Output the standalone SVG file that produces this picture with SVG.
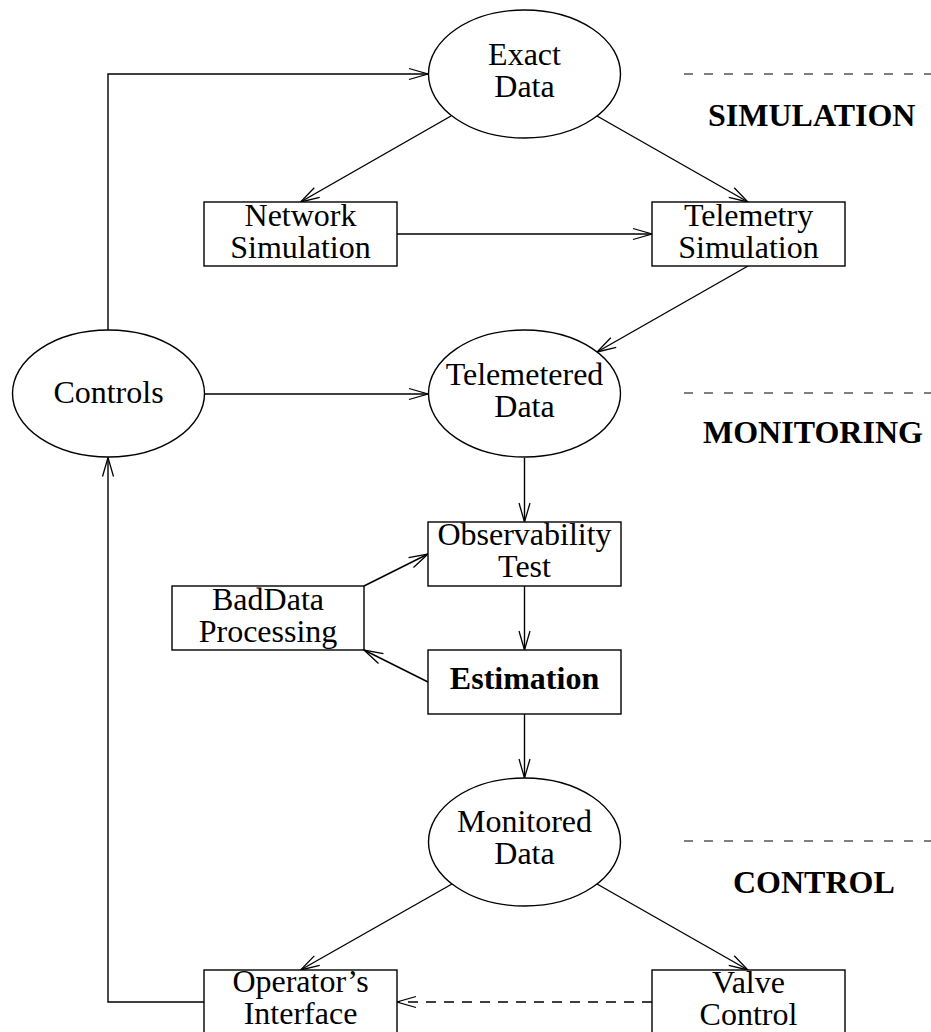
<svg xmlns="http://www.w3.org/2000/svg" width="931" height="1032" viewBox="0 0 931 1032">
<style>
  .n { fill: #fff; stroke: #000; stroke-width: 1.4; }
  .t { font-family: "Liberation Serif", "Times New Roman", serif; font-size: 32px; fill: #000; text-anchor: middle; }
  .b { font-weight: bold; }
  .l { font-family: "Liberation Serif", "Times New Roman", serif; font-size: 32px; font-weight: bold; fill: #000; }
  .c { fill: none; stroke: #000; stroke-width: 1.4; }
  .d { stroke-dasharray: 10 8; }
  .sep { fill: none; stroke: #000; stroke-width: 1.2; stroke-dasharray: 9 11; }
</style>
<defs>
  <marker id="a" markerWidth="24" markerHeight="14" refX="20" refY="7" orient="auto" markerUnits="userSpaceOnUse" overflow="visible">
    <path d="M1,1.5 L20,7 L1,12.5" fill="none" stroke="#000" stroke-width="1.3"/>
  </marker>
</defs>
<rect width="931" height="1032" fill="#fff"/>

<g id="connectors">
  <path class="c" d="M108,330 V74 H428" marker-end="url(#a)"/>
  <path class="c" d="M451,116 L300.5,202" marker-end="url(#a)"/>
  <path class="c" d="M597,116 L748,202" marker-end="url(#a)"/>
  <path class="c" d="M397,234 H652" marker-end="url(#a)"/>
  <path class="c" d="M748,266 L597,352" marker-end="url(#a)"/>
  <path class="c" d="M204,394 H428" marker-end="url(#a)"/>
  <path class="c" d="M524.5,458 V522" marker-end="url(#a)"/>
  <path class="c" d="M524.5,586 V650" marker-end="url(#a)"/>
  <path class="c" d="M364,586 L428,554" marker-end="url(#a)"/>
  <path class="c" d="M428,682 L364,650" marker-end="url(#a)"/>
  <path class="c" d="M524.5,714 V778" marker-end="url(#a)"/>
  <path class="c" d="M452,884 L300.5,970" marker-end="url(#a)"/>
  <path class="c" d="M597,884 L748,970" marker-end="url(#a)"/>
  <path class="c d" d="M652,1002 H397" marker-end="url(#a)"/>
  <path class="c" d="M204,1002 H108 V457.5" marker-end="url(#a)"/>
</g>

<g id="separators">
  <path class="sep" d="M684,74 H931"/>
  <path class="sep" d="M684,393 H931"/>
  <path class="sep" d="M684,841 H931"/>
  <text class="l" x="708" y="126">SIMULATION</text>
  <text class="l" x="703" y="443">MONITORING</text>
  <text class="l" x="733" y="893">CONTROL</text>
</g>

<g id="exact-data">
  <ellipse class="n" cx="524.5" cy="74" rx="96" ry="64"/>
  <text class="t" x="524.5" y="65">Exact</text>
  <text class="t" x="524.5" y="97">Data</text>
</g>
<g id="network-simulation">
  <rect class="n" x="204" y="202" width="193" height="64"/>
  <text class="t" x="300.5" y="226">Network</text>
  <text class="t" x="300.5" y="258">Simulation</text>
</g>
<g id="telemetry-simulation">
  <rect class="n" x="652" y="202" width="193" height="64"/>
  <text class="t" x="748.5" y="226">Telemetry</text>
  <text class="t" x="748.5" y="258">Simulation</text>
</g>
<g id="controls">
  <ellipse class="n" cx="108.5" cy="393.5" rx="96" ry="63.5"/>
  <text class="t" x="108.5" y="403">Controls</text>
</g>
<g id="telemetered-data">
  <ellipse class="n" cx="524.5" cy="393.5" rx="96" ry="63.5"/>
  <text class="t" x="524.5" y="385">Telemetered</text>
  <text class="t" x="524.5" y="417">Data</text>
</g>
<g id="observability-test">
  <rect class="n" x="428" y="522" width="193" height="64"/>
  <text class="t" x="524.5" y="545">Observability</text>
  <text class="t" x="524.5" y="577">Test</text>
</g>
<g id="bad-data-processing">
  <rect class="n" x="172" y="586" width="192" height="64"/>
  <text class="t" x="268" y="610">BadData</text>
  <text class="t" x="268" y="642">Processing</text>
</g>
<g id="estimation">
  <rect class="n" x="428" y="650" width="193" height="64"/>
  <text class="t b" x="524.5" y="689">Estimation</text>
</g>
<g id="monitored-data">
  <ellipse class="n" cx="524.5" cy="842" rx="96" ry="64"/>
  <text class="t" x="524.5" y="832">Monitored</text>
  <text class="t" x="524.5" y="864">Data</text>
</g>
<g id="operators-interface">
  <rect class="n" x="204" y="970" width="193" height="64"/>
  <text class="t" x="300.5" y="992">Operator’s</text>
  <text class="t" x="300.5" y="1024">Interface</text>
</g>
<g id="valve-control">
  <rect class="n" x="652" y="970" width="193" height="64"/>
  <text class="t" x="748.5" y="993">Valve</text>
  <text class="t" x="748.5" y="1025">Control</text>
</g>
</svg>
